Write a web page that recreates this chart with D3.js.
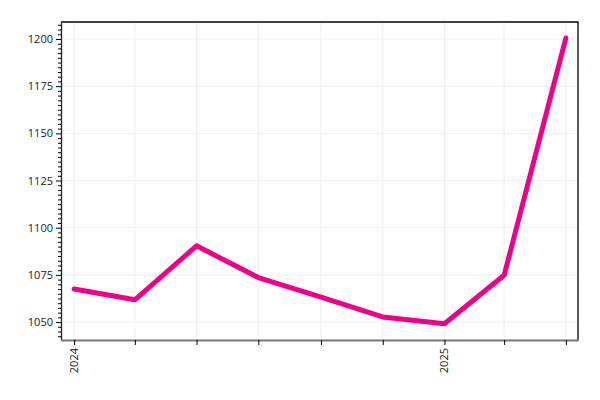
<!DOCTYPE html>
<html>
<head>
<meta charset="utf-8">
<script src="https://cdn.jsdelivr.net/npm/d3@7"></script>
<style>
  body { margin: 0; background: #fff; }
  text { font-family: "Open Sans", sans-serif; }
</style>
</head>
<body>
<div id="chart"></div>
<script>
// data (one point every two months)
const dates = ['2024-01-01', '2024-03-01', '2024-05-01', '2024-07-01', '2024-09-01',
  '2024-11-01', '2025-01-01', '2025-03-01', '2025-05-01'];
const values = [1067.5, 1061.8, 1090.4, 1073.6, 1063.2, 1052.7, 1049.1, 1074.8, 1200.5];
const yTicks = [1050, 1075, 1100, 1125, 1150, 1175, 1200];

const margin = { top: 22, right: 22, bottom: 60, left: 61 },
  width = 600 - margin.left - margin.right,
  height = 400 - margin.top - margin.bottom;

const parse = d3.timeParse('%Y-%m-%d');
const data = dates.map((d, i) => ({ date: parse(d), value: values[i] }));

const svg = d3.select('#chart')
  .append('svg')
  .attr('width', width + margin.left + margin.right)
  .attr('height', height + margin.top + margin.bottom)
  .append('g')
  .attr('transform', `translate(${margin.left}, ${margin.top})`);

// x: time scale, padded a bit on both ends
const first = data[0].date, last = data[data.length - 1].date;
const x = d3.scaleTime()
  .domain([d3.timeDay.offset(first, -13), d3.timeDay.offset(last, 12)])
  .range([0, width]);

const y = d3.scaleLinear().domain([1040.5, 1209]).range([height, 0]);

// grid
svg.append('g')
  .selectAll('line')
  .data(data)
  .join('line')
  .attr('x1', d => x(d.date)).attr('x2', d => x(d.date))
  .attr('y1', 0).attr('y2', height)
  .attr('stroke', '#eeeeee');
svg.append('g')
  .selectAll('line')
  .data(yTicks)
  .join('line')
  .attr('x1', 0).attr('x2', width)
  .attr('y1', d => y(d)).attr('y2', d => y(d))
  .attr('stroke', '#eeeeee');

// frame top + right
svg.append('path')
  .attr('d', `M0,0H${width}V${height}`)
  .attr('fill', 'none')
  .attr('stroke', '#000')
  .attr('stroke-width', 1.3);

// minor y ticks every 2.5
const minor = d3.range(1042.5, 1209, 2.5).filter(v => !yTicks.includes(v));
svg.append('g')
  .call(d3.axisLeft(y).tickValues(minor).tickSize(3).tickFormat(''))
  .call(g => g.select('.domain').remove());

// y axis
svg.append('g')
  .call(d3.axisLeft(y).tickValues(yTicks).tickSize(5).tickPadding(3).tickSizeOuter(0)
    .tickFormat(d3.format('d')))
  .call(g => g.select('.domain').attr('stroke', '#222').attr('stroke-width', 1.3))
  .call(g => g.selectAll('text').attr('font-size', 11).attr('fill', '#222'));

// x axis
svg.append('g')
  .attr('transform', `translate(0, ${height})`)
  .call(d3.axisBottom(x)
    .tickValues(data.map(d => d.date))
    .tickSize(5)
    .tickSizeOuter(0)
    .tickFormat(d => d.getMonth() === 0 ? d3.timeFormat('%Y')(d) : ''))
  .call(g => g.select('.domain').attr('stroke', '#777').attr('stroke-width', 2))
  .call(g => g.selectAll('text')
    .attr('font-size', 11)
    .attr('fill', '#222')
    .attr('transform', 'rotate(-90)')
    .attr('x', -8)
    .attr('y', 0)
    .attr('dy', '0.32em')
    .style('text-anchor', 'end'));

// line
svg.append('path')
  .datum(data)
  .attr('fill', 'none')
  .attr('stroke', '#ec008c')
  .attr('stroke-width', 5)
  .attr('stroke-linejoin', 'round')
  .attr('stroke-linecap', 'round')
  .attr('d', d3.line().x(d => x(d.date)).y(d => y(d.value)));
</script>
</body>
</html>
